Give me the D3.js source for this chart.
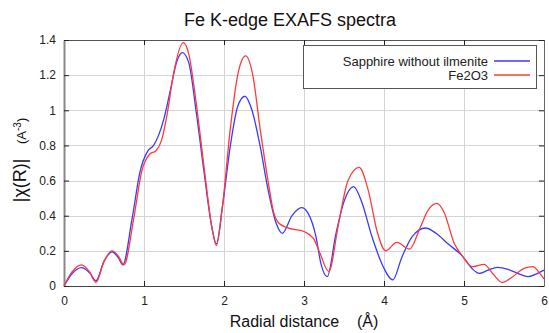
<!DOCTYPE html>
<html>
<head>
<meta charset="utf-8">
<script src="https://cdn.jsdelivr.net/npm/d3@7"></script>
<style>
  body { margin: 0; background: #fff; }
  text { font-family: "Liberation Sans", Arial, sans-serif; }
</style>
</head>
<body>
<svg width="549" height="333"></svg>
<script>
// Fe K-edge EXAFS, |chi(R)| vs R
const blueR = [0, 0.1, 0.22, 0.32, 0.40, 0.5, 0.60, 0.68, 0.735, 0.85, 0.95, 1.05, 1.12, 1.245, 1.33, 1.41, 1.48, 1.56, 1.65, 1.75, 1.85, 1.905, 1.98, 2.08, 2.17, 2.26, 2.35, 2.45, 2.55, 2.65, 2.73, 2.85, 2.97, 3.05, 3.15, 3.21, 3.29, 3.4, 3.5, 3.62, 3.72, 3.85, 3.98, 4.11, 4.22, 4.35, 4.52, 4.65, 4.8, 4.98, 5.1, 5.19, 5.3, 5.42, 5.55, 5.68, 5.80, 5.9, 6.0]
const blueV = [0, 0.07, 0.105, 0.075, 0.03, 0.14, 0.195, 0.16, 0.12, 0.38, 0.65, 0.77, 0.80, 0.945, 1.115, 1.277, 1.328, 1.27, 1.0, 0.65, 0.33, 0.24, 0.45, 0.80, 1.02, 1.08, 1.0, 0.8, 0.55, 0.36, 0.30, 0.40, 0.446, 0.415, 0.28, 0.13, 0.053, 0.3, 0.48, 0.565, 0.48, 0.28, 0.12, 0.035, 0.16, 0.28, 0.33, 0.3, 0.24, 0.17, 0.1, 0.072, 0.09, 0.106, 0.095, 0.07, 0.053, 0.068, 0.09]

const redR = [0, 0.1, 0.22, 0.32, 0.40, 0.5, 0.60, 0.68, 0.75, 0.87, 0.97, 1.07, 1.15, 1.22, 1.29, 1.37, 1.49, 1.56, 1.65, 1.75, 1.85, 1.905, 1.98, 2.08, 2.18, 2.27, 2.36, 2.45, 2.55, 2.62, 2.68, 2.79, 3.0, 3.12, 3.2, 3.31, 3.43, 3.55, 3.69, 3.8, 3.92, 4.02, 4.16, 4.32, 4.45, 4.55, 4.66, 4.75, 4.88, 4.98, 5.1, 5.25, 5.36, 5.48, 5.6, 5.75, 5.86, 5.95, 6.0]
const redV = [0, 0.08, 0.12, 0.08, 0.02, 0.14, 0.2, 0.17, 0.12, 0.38, 0.65, 0.75, 0.77, 0.83, 0.98, 1.21, 1.385, 1.32, 1.05, 0.68, 0.33, 0.23, 0.45, 0.90, 1.22, 1.31, 1.2, 0.9, 0.6, 0.42, 0.36, 0.332, 0.31, 0.27, 0.186, 0.082, 0.35, 0.6, 0.675, 0.55, 0.3, 0.2, 0.248, 0.21, 0.33, 0.43, 0.47, 0.42, 0.24, 0.17, 0.11, 0.123, 0.07, 0.02, 0.05, 0.1, 0.11, 0.07, 0.04]

const xTicks = [0, 1, 2, 3, 4, 5, 6]
const yTicks = [0, 0.2, 0.4, 0.6, 0.8, 1, 1.2, 1.4]
const seriesNames = ['Sapphire without ilmenite', 'Fe2O3']
const seriesColors = ['#3a3aff', '#ff3a3a']

const svg = d3.select('svg')
const pLeft = 64, pRight = 544, pTop = 40, pBottom = 286

const x = d3.scaleLinear().domain([0, 6]).range([pLeft, pRight])
const y = d3.scaleLinear().domain([0, 1.4]).range([pBottom, pTop])

svg.append('text')
  .attr('x', 290).attr('y', 26)
  .attr('text-anchor', 'middle')
  .attr('font-size', 18)
  .attr('fill', '#111')
  .text('Fe K-edge EXAFS spectra')

// grid
const grid = svg.append('g').attr('stroke', '#d4d4d4').attr('stroke-width', 1)
grid.selectAll('.hy').data(yTicks.slice(1, -1)).enter().append('line')
  .attr('x1', pLeft).attr('x2', pRight)
  .attr('y1', d => Math.round(y(d)) + 0.5).attr('y2', d => Math.round(y(d)) + 0.5)
grid.selectAll('.vx').data(xTicks.slice(1, -1)).enter().append('line')
  .attr('y1', pTop).attr('y2', pBottom)
  .attr('x1', d => Math.round(x(d)) + 0.5).attr('x2', d => Math.round(x(d)) + 0.5)

// axes with inward ticks
const fmt = d => String(d)
svg.append('g')
  .attr('transform', `translate(0,${pBottom})`)
  .call(d3.axisBottom(x).tickValues(xTicks).tickFormat(fmt).tickSizeInner(-5).tickSizeOuter(0).tickPadding(10))
  .call(g => g.select('.domain').attr('stroke', '#444'))
svg.append('g')
  .attr('transform', `translate(0,${pTop})`)
  .call(d3.axisTop(x).tickValues(xTicks).tickFormat('').tickSizeInner(-5).tickSizeOuter(0))
  .call(g => g.select('.domain').attr('stroke', '#555'))
svg.append('g')
  .attr('transform', `translate(${pLeft},0)`)
  .call(d3.axisLeft(y).tickValues(yTicks).tickFormat(fmt).tickSizeInner(-5).tickSizeOuter(0).tickPadding(8))
  .call(g => g.select('.domain').attr('stroke', '#888').attr('stroke-width', 2))
svg.append('g')
  .attr('transform', `translate(${pRight},0)`)
  .call(d3.axisRight(y).tickValues(yTicks).tickFormat('').tickSizeInner(-5).tickSizeOuter(0))
  .call(g => g.select('.domain').attr('stroke', '#666'))
svg.selectAll('.tick text').attr('font-size', 12).attr('fill', '#222')
  .style('font-family', '"Liberation Sans", Arial, sans-serif')
svg.selectAll('.tick line').attr('stroke', '#222')

// curves
const mk = d3.line().x(d => x(d[0])).y(d => y(d[1])).curve(d3.curveMonotoneX)
const series = [d3.zip(blueR, blueV), d3.zip(redR, redV)]
svg.append('g').selectAll('path').data(series).enter().append('path')
  .attr('d', mk)
  .attr('fill', 'none')
  .attr('stroke', (d, i) => seriesColors[i])
  .attr('stroke-width', 1.3)

// legend
const lg = svg.append('g')
lg.append('rect').attr('x', 303.5).attr('y', 45.5).attr('width', 233).attr('height', 43)
  .attr('fill', '#fff').attr('stroke', '#555')
seriesNames.forEach((n, i) => {
  const yy = 61 + i * 14
  lg.append('text').attr('x', 488).attr('y', yy + 4.5).attr('text-anchor', 'end')
    .attr('font-size', 13).attr('fill', '#222').text(n)
  lg.append('line').attr('x1', 494).attr('x2', 530).attr('y1', yy).attr('y2', yy)
    .attr('stroke', seriesColors[i]).attr('stroke-width', 1.4)
})

// axis labels
svg.append('text').attr('x', 304).attr('y', 327).attr('text-anchor', 'middle')
  .attr('font-size', 16).attr('fill', '#111').attr('xml:space', 'preserve')
  .text('Radial distance    (Å)')

const yl = svg.append('text').attr('transform', 'translate(26,160) rotate(-90)')
  .attr('text-anchor', 'middle').attr('fill', '#111').attr('xml:space', 'preserve')
yl.append('tspan').attr('font-size', 18).text('|χ(R)|')
yl.append('tspan').attr('font-size', 13).text('    (A')
yl.append('tspan').attr('font-size', 10).attr('dy', -5).text('-3')
yl.append('tspan').attr('font-size', 13).attr('dy', 5).text(')')
</script>
</body>
</html>
